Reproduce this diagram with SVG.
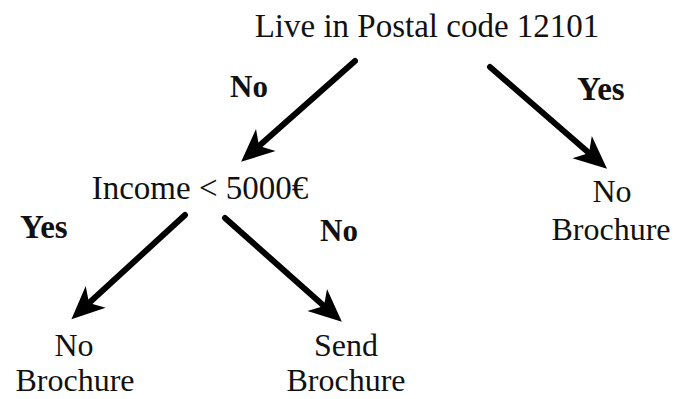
<svg xmlns="http://www.w3.org/2000/svg" width="676" height="399" viewBox="0 0 676 399">
<style>
.t{font-family:"Liberation Serif","Times New Roman",serif;font-size:33px;fill:#111;text-anchor:middle}
.s{font-size:32px}
.l{font-family:"Liberation Serif","Times New Roman",serif;font-size:31px;font-weight:bold;fill:#111}
.y{font-size:33px}
.c{stroke:#000;stroke-width:6;fill:none;stroke-linecap:round}
</style>
<defs>
<marker id="ah" markerUnits="userSpaceOnUse" markerWidth="50" markerHeight="40" viewBox="-12 -16 44 32" refX="0" refY="0" orient="auto">
<path d="M21,0 L-8,-13 L0,0 L-8,13 Z" fill="#000"/>
</marker>
</defs>
<rect width="676" height="399" fill="#fff"/>
<g id="root"><text class="t" x="427" y="37">Live in Postal code 12101</text></g>
<g id="income"><text class="t" x="200" y="199">Income &lt; 5000€</text></g>
<g id="right-leaf"><text class="t s" x="612" y="202">No</text><text class="t s" x="611" y="240">Brochure</text></g>
<g id="left-leaf"><text class="t s" x="74" y="356">No</text><text class="t s" x="75" y="391">Brochure</text></g>
<g id="send-leaf"><text class="t s" x="346" y="356">Send</text><text class="t s" x="346" y="391">Brochure</text></g>
<g id="connectors">
<line class="c" x1="355" y1="61" x2="259" y2="146" marker-end="url(#ah)"/>
<line class="c" x1="490" y1="67" x2="589" y2="153" marker-end="url(#ah)"/>
<line class="c" x1="185" y1="215" x2="89" y2="303" marker-end="url(#ah)"/>
<line class="c" x1="225" y1="218" x2="324" y2="306" marker-end="url(#ah)"/>
<text class="l" x="230" y="97">No</text>
<text class="l y" x="577" y="100">Yes</text>
<text class="l y" x="20" y="238">Yes</text>
<text class="l" x="320" y="241">No</text>
</g>
</svg>
